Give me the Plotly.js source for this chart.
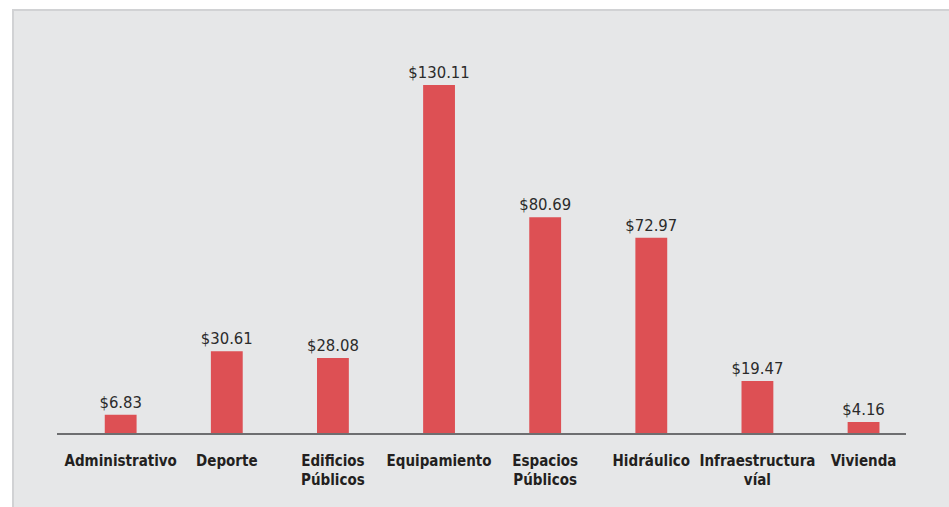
<!DOCTYPE html>
<html>
<head>
<meta charset="utf-8">
<script src="https://cdn.plot.ly/plotly-3.0.1.min.js"></script>
<style>
  html, body { margin: 0; padding: 0; background: #ffffff; }
  #panel {
    position: absolute; left: 12px; top: 9px;
    width: 935px; height: 496px;
    background: #e6e7e8;
    border-left: 2px solid #d1d2d4;
    border-top: 2px solid #d1d2d4;
  }
  #chart { width: 935px; height: 496px; }
</style>
</head>
<body>
<div id="panel"><div id="chart"></div></div>
<script>
// categorías y montos (millones de pesos)
const categorias = [
  "Administrativo",
  "Deporte",
  "Edificios<br>Públicos",
  "Equipamiento",
  "Espacios<br>Públicos",
  "Hidráulico",
  "Infraestructura<br>víal",
  "Vivienda",
];
const montos = [6.83, 30.61, 28.08, 130.11, 80.69, 72.97, 19.47, 4.16];
const etiquetas = montos.map((v) => "$" + v.toFixed(2));

const fuente = "'DejaVu Sans Condensed', 'Roboto', sans-serif";

const trace = {
  x: categorias,
  y: montos,
  type: "bar",
  width: 0.3,
  marker: { color: "#dd5054" },
  text: etiquetas,
  textposition: "outside",
  constraintext: "none",
  cliponaxis: false,
  textfont: { family: fuente, size: 16.5, color: "#2b2b2b" },
  hoverinfo: "none",
};

const layout = {
  width: 935,
  height: 496,
  margin: { l: 43, r: 43, t: 61, b: 74, pad: 0 },
  paper_bgcolor: "rgba(0,0,0,0)",
  plot_bgcolor: "rgba(0,0,0,0)",
  showlegend: false,
  xaxis: {
    range: [-0.6, 7.4],
    showline: true,
    linecolor: "#6d6e70",
    linewidth: 1.5,
    showgrid: false,
    ticks: "",
    ticklabelstandoff: 13,
    tickfont: { family: fuente, size: 15, color: "#231f20", weight: "bold" },
  },
  yaxis: {
    range: [0, 135],
    visible: false,
    showgrid: false,
    zeroline: false,
  },
};

Plotly.newPlot("chart", [trace], layout, { displayModeBar: false, staticPlot: true });
</script>
</body>
</html>
